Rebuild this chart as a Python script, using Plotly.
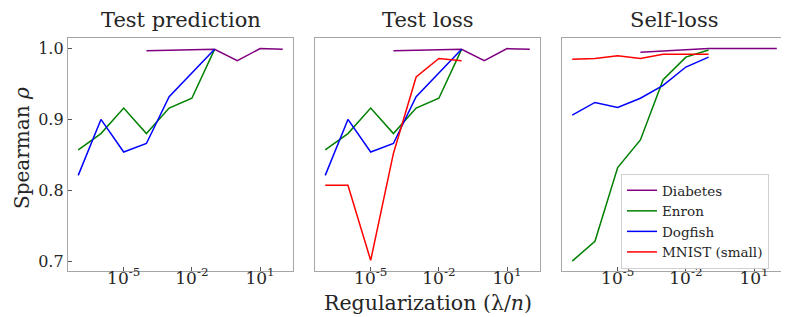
import plotly.graph_objects as go

# ---- data ----
lam_small = [1e-7, 1e-6, 1e-5, 1e-4, 1e-3, 1e-2, 1e-1]
lam_diab = [1e-4, 1e-3, 1e-2, 1e-1, 1e0, 1e1, 1e2]

panel_titles = ["Test prediction", "Test loss", "Self-loss"]
series_names = ["Diabetes", "Enron", "Dogfish", "MNIST (small)"]

diab_pred = [0.997, 0.998, 0.998, 0.999, 0.983, 1.000, 0.999]
enron_pred = [0.857, 0.880, 0.916, 0.880, 0.916, 0.930, 0.999]
dog_pred = [0.821, 0.900, 0.854, 0.866, 0.932, 0.965, 0.999]

diab_loss = [0.997, 0.998, 0.998, 0.999, 0.983, 1.000, 0.999]
enron_loss = [0.857, 0.880, 0.916, 0.880, 0.916, 0.930, 0.999]
dog_loss = [0.821, 0.900, 0.854, 0.866, 0.932, 0.965, 0.999]
mnist_loss = [0.807, 0.807, 0.701, 0.852, 0.960, 0.986, 0.983]

diab_self = [0.995, 0.9965, 0.9985, 1.000, 1.000, 1.000, 1.000]
enron_self = [0.700, 0.728, 0.832, 0.871, 0.956, 0.988, 0.998]
dog_self = [0.906, 0.924, 0.917, 0.930, 0.948, 0.974, 0.988]
mnist_self = [0.985, 0.986, 0.990, 0.986, 0.992, 0.9925, 0.992]

x_tickvals = [1e-5, 1e-2, 1e1]
x_ticktext = ["10<sup>-5</sup>", "10<sup>-2</sup>", "10<sup>1</sup>"]
y_tickvals = [0.7, 0.8, 0.9, 1.0]
y_ticktext = ["0.7", "0.8", "0.9", "1.0"]

colors = {"Diabetes": "#800080", "Enron": "#008000", "Dogfish": "#0000ff", "MNIST (small)": "#ff0000"}

W, H = 789, 317
FONT = "DejaVu Serif, serif"
TXT = "#262626"

panels = [
    [("Diabetes", lam_diab, diab_pred), ("Enron", lam_small, enron_pred), ("Dogfish", lam_small, dog_pred)],
    [("Diabetes", lam_diab, diab_loss), ("Enron", lam_small, enron_loss), ("Dogfish", lam_small, dog_loss),
     ("MNIST (small)", lam_small, mnist_loss)],
    [("Diabetes", lam_diab, diab_self), ("Enron", lam_small, enron_self), ("Dogfish", lam_small, dog_self),
     ("MNIST (small)", lam_small, mnist_self)],
]

x_px = [(60, 285), (307, 532), (554, 779)]
y_top, y_bot = 30, 263

fig = go.Figure()
for i, series in enumerate(panels):
    xa = "x" if i == 0 else f"x{i+1}"
    ya = "y" if i == 0 else f"y{i+1}"
    for name, xs, ys in series:
        fig.add_trace(go.Scatter(
            x=xs, y=ys, mode="lines", name=name, xaxis=xa, yaxis=ya,
            line=dict(color=colors[name], width=1.5),
            legendgroup=name, showlegend=(i == 2),
        ))

layout = dict(
    width=W, height=H,
    margin=dict(l=0, r=0, t=0, b=0),
    paper_bgcolor="white", plot_bgcolor="white",
    font=dict(family=FONT, color=TXT, size=16),
    showlegend=True,
    legend=dict(
        x=613 / W, y=1 - 166 / H, xanchor="left", yanchor="top",
        bgcolor="rgba(255,255,255,0.85)", bordercolor="#d0d0d0", borderwidth=1,
        font=dict(family=FONT, size=13.5, color=TXT),
        tracegroupgap=0,
    ),
)

for i in range(3):
    xs = "xaxis" if i == 0 else f"xaxis{i+1}"
    ys = "yaxis" if i == 0 else f"yaxis{i+1}"
    ya_ref = "y" if i == 0 else f"y{i+1}"
    xa_ref = "x" if i == 0 else f"x{i+1}"
    layout[xs] = dict(
        type="log", range=[-7.45, 2.45],
        domain=[x_px[i][0] / W, x_px[i][1] / W],
        anchor=ya_ref,
        tickvals=x_tickvals, ticktext=x_ticktext,
        ticks="inside", ticklen=4, tickcolor="#555555", tickwidth=1,
        ticklabelstandoff=-9,
        showline=True, linecolor="#a6a6a6", linewidth=1.3, mirror=True,
        showgrid=False, zeroline=False,
        tickfont=dict(family=FONT, size=17, color=TXT),
    )
    layout[ys] = dict(
        range=[0.686, 1.015],
        domain=[1 - y_bot / H, 1 - y_top / H],
        anchor=xa_ref,
        tickvals=y_tickvals, ticktext=y_ticktext,
        showticklabels=(i == 0),
        ticks="inside" if i == 0 else "", ticklen=4, tickcolor="#555555", tickwidth=1,
        showline=True, linecolor="#a6a6a6", linewidth=1.3, mirror=True,
        showgrid=False, zeroline=False,
        tickfont=dict(family=FONT, size=16, color=TXT),
    )
    if i > 0:
        layout[ys]["matches"] = "y"

annotations = []
for i, t in enumerate(panel_titles):
    cx = (x_px[i][0] + x_px[i][1]) / 2
    annotations.append(dict(
        text=t, x=cx / W, y=1 - 12 / H, xref="paper", yref="paper",
        xanchor="center", yanchor="middle", showarrow=False,
        font=dict(family=FONT, size=21, color=TXT),
    ))
annotations.append(dict(
    text="Spearman <i>ρ</i>", x=14 / W, y=1 - 140 / H, xref="paper", yref="paper",
    xanchor="center", yanchor="middle", showarrow=False, textangle=-90,
    font=dict(family=FONT, size=20, color=TXT),
))
annotations.append(dict(
    text="Regularization (λ/<i>n</i>)", x=419.5 / W, y=1 - 295 / H, xref="paper", yref="paper",
    xanchor="center", yanchor="middle", showarrow=False,
    font=dict(family=FONT, size=20.5, color=TXT),
))
layout["annotations"] = annotations

fig.update_layout(**layout)
fig.write_html("out.html")
